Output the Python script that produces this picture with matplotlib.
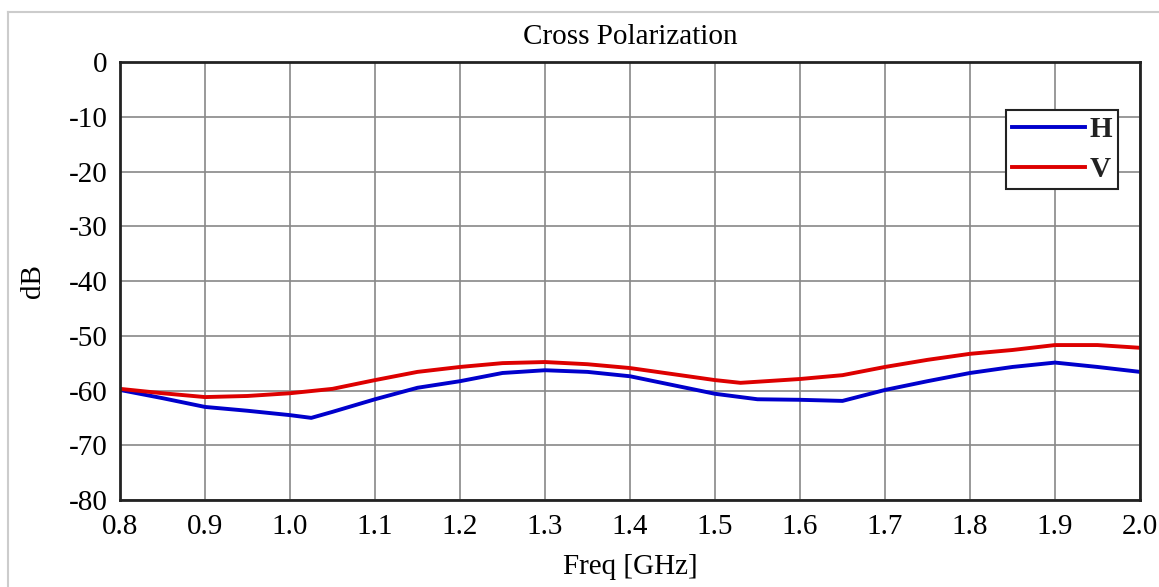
import matplotlib
matplotlib.use("Agg")
import matplotlib.pyplot as plt
from matplotlib.lines import Line2D

freq = [0.80, 0.85, 0.90, 0.95, 1.00, 1.025, 1.05, 1.10, 1.15, 1.20, 1.25, 1.30, 1.35,
        1.40, 1.45, 1.50, 1.55, 1.60, 1.65, 1.70, 1.75, 1.80, 1.85, 1.90, 1.95, 2.00]
h_db = [-59.9, -61.4, -63.0, -63.7, -64.5, -65.0, -63.9, -61.6, -59.5, -58.3, -56.8, -56.3, -56.6,
        -57.4, -59.0, -60.6, -61.6, -61.7, -61.9, -59.9, -58.3, -56.8, -55.7, -54.9, -55.7, -56.6]
freq_v = [0.80, 0.85, 0.90, 0.95, 1.00, 1.05, 1.10, 1.15, 1.20, 1.25, 1.30, 1.35, 1.40,
          1.45, 1.50, 1.53, 1.55, 1.60, 1.65, 1.70, 1.75, 1.80, 1.85, 1.90, 1.95, 2.00]
v_db = [-59.7, -60.5, -61.2, -61.0, -60.5, -59.7, -58.1, -56.6, -55.7, -55.0, -54.8, -55.2, -55.9,
        -57.0, -58.1, -58.6, -58.4, -57.9, -57.2, -55.7, -54.4, -53.3, -52.6, -51.7, -51.7, -52.2]
xticks = [0.8, 0.9, 1.0, 1.1, 1.2, 1.3, 1.4, 1.5, 1.6, 1.7, 1.8, 1.9, 2.0]
yticks = [0, -10, -20, -30, -40, -50, -60, -70, -80]

plt.rcParams['font.family'] = ['Liberation Serif', 'DejaVu Serif']
FS = 21

fig = plt.figure(figsize=(11.59, 5.87), dpi=100)
# outer light frame
fig.add_artist(Line2D([8/1159, 8/1159], [0, 1 - 12/587], transform=fig.transFigure,
                      color='#cccccc', lw=1.5))
fig.add_artist(Line2D([8/1159, 1], [1 - 12/587, 1 - 12/587], transform=fig.transFigure,
                      color='#cccccc', lw=1.5))

ax = fig.add_axes([120/1159, 87/587, 1020/1159, 438/587])
ax.plot(freq, h_db, color='#0000cc', lw=2.8, label='H')
ax.plot(freq_v, v_db, color='#dd0000', lw=2.8, label='V')
ax.set_xlim(0.8, 2.0)
ax.set_ylim(-80, 0)
ax.set_xticks(xticks)
ax.set_xticklabels([f"{t:.1f}" for t in xticks], fontsize=FS)
ax.set_yticks(yticks)
ax.set_yticklabels([str(t) for t in yticks], fontsize=FS)
ax.tick_params(axis='y', length=0, pad=9)
ax.tick_params(axis='x', length=0, pad=10)
ax.grid(True, color='#888888', lw=1.2)
for s in ax.spines.values():
    s.set_color('#222222')
    s.set_linewidth(2)
ax.set_title('Cross Polarization', fontsize=FS, pad=13)
ax.set_xlabel('Freq [GHz]', fontsize=FS, labelpad=10)
ax.set_ylabel('dB', fontsize=FS, labelpad=16)

leg = ax.legend(loc='upper left', bbox_to_anchor=((1006-120)/1020, (500-110)/438),
                borderaxespad=0, fontsize=FS, handlelength=2.5, handletextpad=0.15,
                borderpad=0.2, labelspacing=0.45, fancybox=False, framealpha=1,
                edgecolor='#222222')
leg.get_frame().set_linewidth(1.5)
for t in leg.get_texts():
    t.set_fontweight('bold')
    t.set_color('#222222')

fig.savefig('out.png', dpi=100)
